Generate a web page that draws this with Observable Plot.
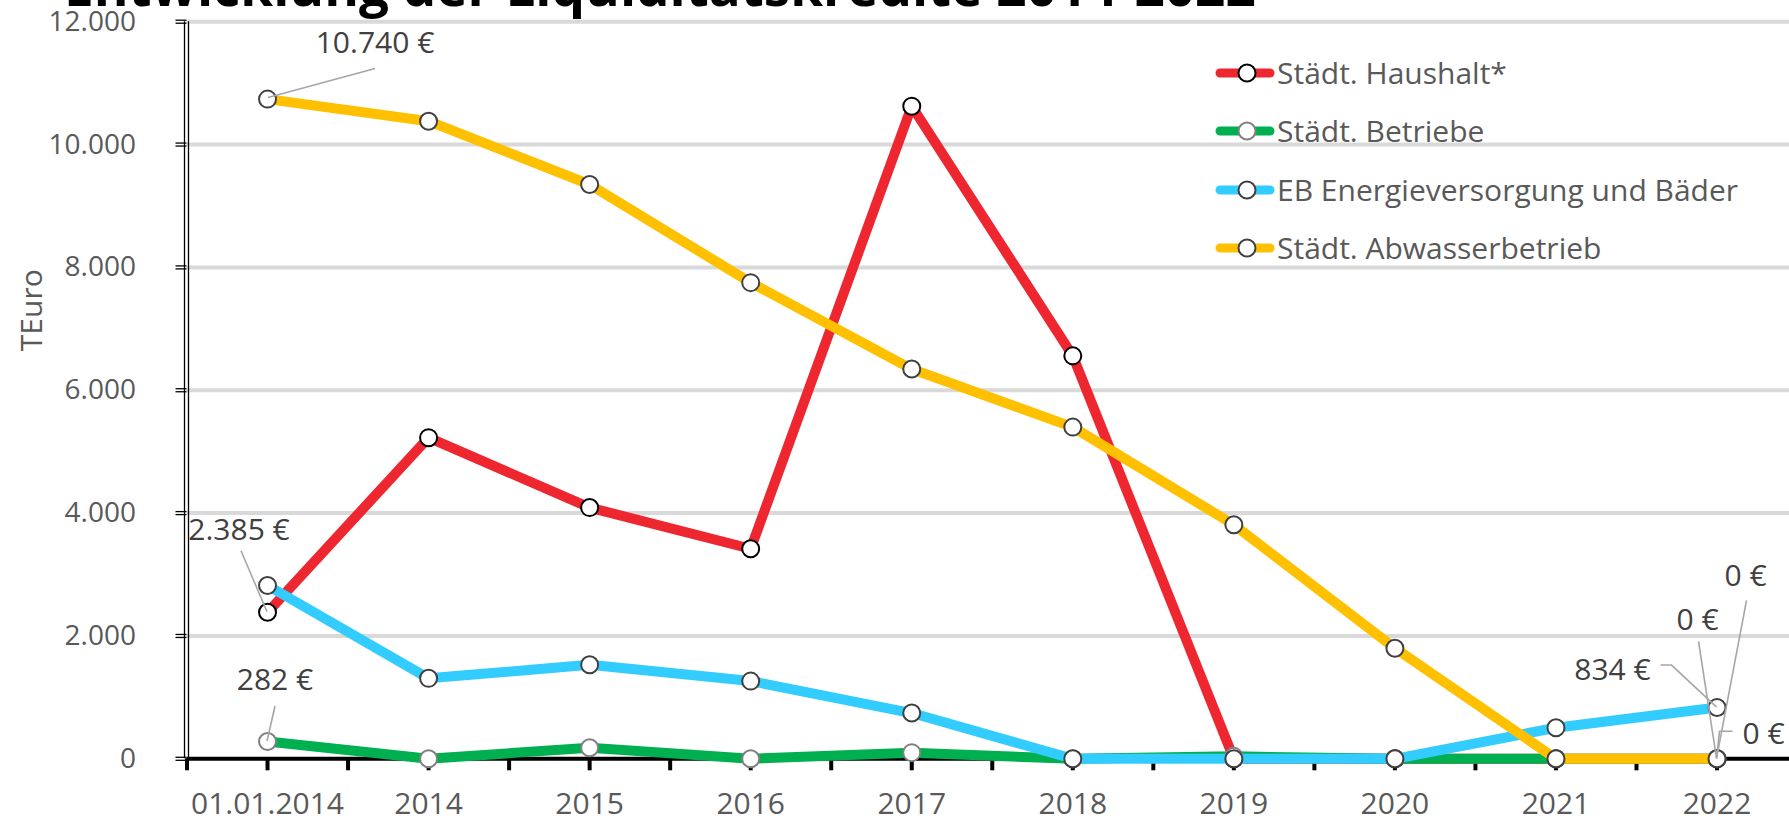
<!DOCTYPE html>
<html>
<head>
<meta charset="utf-8">
<script src="https://cdn.jsdelivr.net/npm/d3@7"></script>
<script src="https://cdn.jsdelivr.net/npm/@observablehq/plot@0.6"></script>
<style>
  html, body { margin: 0; padding: 0; background: white; overflow: hidden; }
  #wrap { position: relative; width: 1789px; height: 820px; overflow: hidden; font-family: "Open Sans", sans-serif; }
  #title { position: absolute; left: 64px; top: -41px; font-size: 53px; line-height: 53px; font-weight: 700; color: #000; white-space: nowrap; }
  .leg { position: absolute; left: 1214px; height: 40px; display: flex; align-items: center; white-space: nowrap; }
  .leg span { font-size: 30px; line-height: 40px; color: #595959; margin-left: 1px; }
</style>
</head>
<body>
<div id="wrap">
  <div id="chart"></div>
  <div id="title">Entwicklung der Liquiditätskredite 2014-2022</div>
  <div id="legend"></div>
</div>
<script>
// ---- data ----
const categories = ["01.01.2014","2014","2015","2016","2017","2018","2019","2020","2021","2022"];
const haushalt  = [2385, 5228, 4090, 3420, 10625, 6560, 0, 0, 0, 0];
const betriebe  = [282, 0, 180, 0, 100, 0, 40, 0, 0, 0];
const energie   = [2822, 1310, 1530, 1265, 745, 0, 0, 0, 505, 834];
const abwasser  = [10740, 10380, 9350, 7752, 6345, 5400, 3811, 1800, 0, 0];
const seriesNames = ["Städt. Haushalt*", "Städt. Betriebe", "EB Energieversorgung und Bäder", "Städt. Abwasserbetrieb"];
const seriesValues = [haushalt, betriebe, energie, abwasser];
const seriesColors = ["#EE262F", "#00B050", "#33CCFF", "#FFC000"];
const markerStrokes = ["#000000", "#808080", "#404040", "#404040"];
const yTicks = [0, 2000, 4000, 6000, 8000, 10000, 12000];
const yAxisLabel = "TEuro";
// data labels: series index, category index, label offset and leader offsets (px)
const annotations = [
  {s: 3, i: 0, dx: 108, dy: -56, leader: [[1, -1], [108, -30]]},
  {s: 0, i: 0, dx: -28, dy: -83, leader: [[-26, -61], [0, 0]]},
  {s: 1, i: 0, dx: 8, dy: -62, leader: [[8, -35], [0, 0]]},
  {s: 2, i: 9, dx: -104, dy: -38, leader: [[-56, -42], [-45, -42], [0, 0]]},
  {s: 0, i: 9, dx: -19, dy: -139, leader: [[-18, -117], [0, 0]]},
  {s: 1, i: 9, dx: 29, dy: -183, leader: [[30, -158], [0, 0]]},
  {s: 3, i: 9, dx: 47, dy: -25, leader: [[16, -27], [3, -27], [0, 0]]}
];

const de = d3.formatLocale({decimal: ",", thousands: ".", grouping: [3], currency: ["", " €"]});
const fmt = de.format(",d");

const rows = [];
seriesValues.forEach((vals, s) => vals.forEach((v, i) => rows.push({s, i, value: v})));

const halfSteps = d3.range(-0.5, 9.51, 0.5);

const marks = [
  Plot.ruleY(yTicks.filter(d => d > 0), {stroke: "#D9D9D9", strokeWidth: 4}),
  Plot.ruleY([0], {stroke: "black", strokeWidth: 4}),
  Plot.axisX(halfSteps, {tickSize: 12, tickFormat: () => "", label: null, stroke: "black", strokeWidth: 4}),
  Plot.ruleX([-0.5], {stroke: "black", strokeWidth: 1.3, dx: -2.5}),
  Plot.ruleX([-0.5], {stroke: "black", strokeWidth: 1.3, dx: 1.5}),
  Plot.axisY(yTicks, {tickSize: 11, tickFormat: () => "", label: null, stroke: "black", strokeWidth: 1.3, dy: -1.5}),
  Plot.axisY(yTicks, {tickSize: 11, tickFormat: () => "", label: null, stroke: "black", strokeWidth: 1.3, dy: 1.5}),
  Plot.axisY(yTicks, {tickSize: 0, tickPadding: 51, tickFormat: fmt, label: null, fontSize: 28, fill: "#595959"}),
  Plot.axisX(d3.range(categories.length), {tickSize: 0, tickPadding: 34, tickFormat: i => categories[i], label: null, fontSize: 30, fill: "#595959"}),
  Plot.text([yAxisLabel], {frameAnchor: "left", dx: -155, dy: -80, rotate: -90, textAnchor: "middle", lineAnchor: "middle", fontSize: 30, fill: "#595959"})
];
seriesValues.forEach((vals, s) => {
  const d = rows.filter(r => r.s === s);
  marks.push(Plot.line(d, {x: "i", y: "value", stroke: seriesColors[s], strokeWidth: 10, strokeLinejoin: "round", strokeLinecap: "round"}));
  marks.push(Plot.dot(d, {x: "i", y: "value", r: 8.5, fill: "white", stroke: markerStrokes[s], strokeWidth: 2}));
});

const plot = Plot.plot({
  width: 1789,
  height: 820,
  marginLeft: 186.5,
  marginRight: 0,
  marginTop: 21.2,
  marginBottom: 61.7,
  x: {type: "linear", domain: [-0.5, 9.45], axis: null},
  y: {type: "linear", domain: [0, 12000], axis: null},
  style: {fontFamily: "Open Sans, sans-serif", fontSize: "28px", color: "#595959", background: "white", overflow: "visible"},
  marks
});
document.getElementById("chart").appendChild(plot);

// data labels with leader lines, positioned through the plot's scales
const sx = plot.scale("x"), sy = plot.scale("y");
const svg = d3.select(plot);
const g = svg.append("g");
annotations.forEach(a => {
  const px = sx.apply(a.i), py = sy.apply(seriesValues[a.s][a.i]);
  g.append("path")
    .attr("d", d3.line()(a.leader.map(([ox, oy]) => [px + ox, py + oy])))
    .attr("fill", "none").attr("stroke", "#A6A6A6").attr("stroke-width", 1.6);
  g.append("text")
    .attr("x", px + a.dx).attr("y", py + a.dy)
    .attr("text-anchor", "middle").attr("dy", "0.36em")
    .attr("font-size", 30).attr("fill", "#404040")
    .text(fmt(seriesValues[a.s][a.i]) + " €");
});

// legend
const legendTops = [73, 131, 190, 248];
const legend = document.getElementById("legend");
seriesNames.forEach((name, s) => {
  const row = document.createElement("div");
  row.className = "leg";
  row.style.top = (legendTops[s] - 20) + "px";
  row.innerHTML = `<svg width="62" height="20"><line x1="6" y1="10" x2="56" y2="10" stroke="${seriesColors[s]}" stroke-width="9" stroke-linecap="round"/><circle cx="33" cy="10" r="8.5" fill="white" stroke="${markerStrokes[s]}" stroke-width="2"/></svg><span></span>`;
  row.querySelector("span").textContent = name;
  legend.appendChild(row);
});
</script>
</body>
</html>
